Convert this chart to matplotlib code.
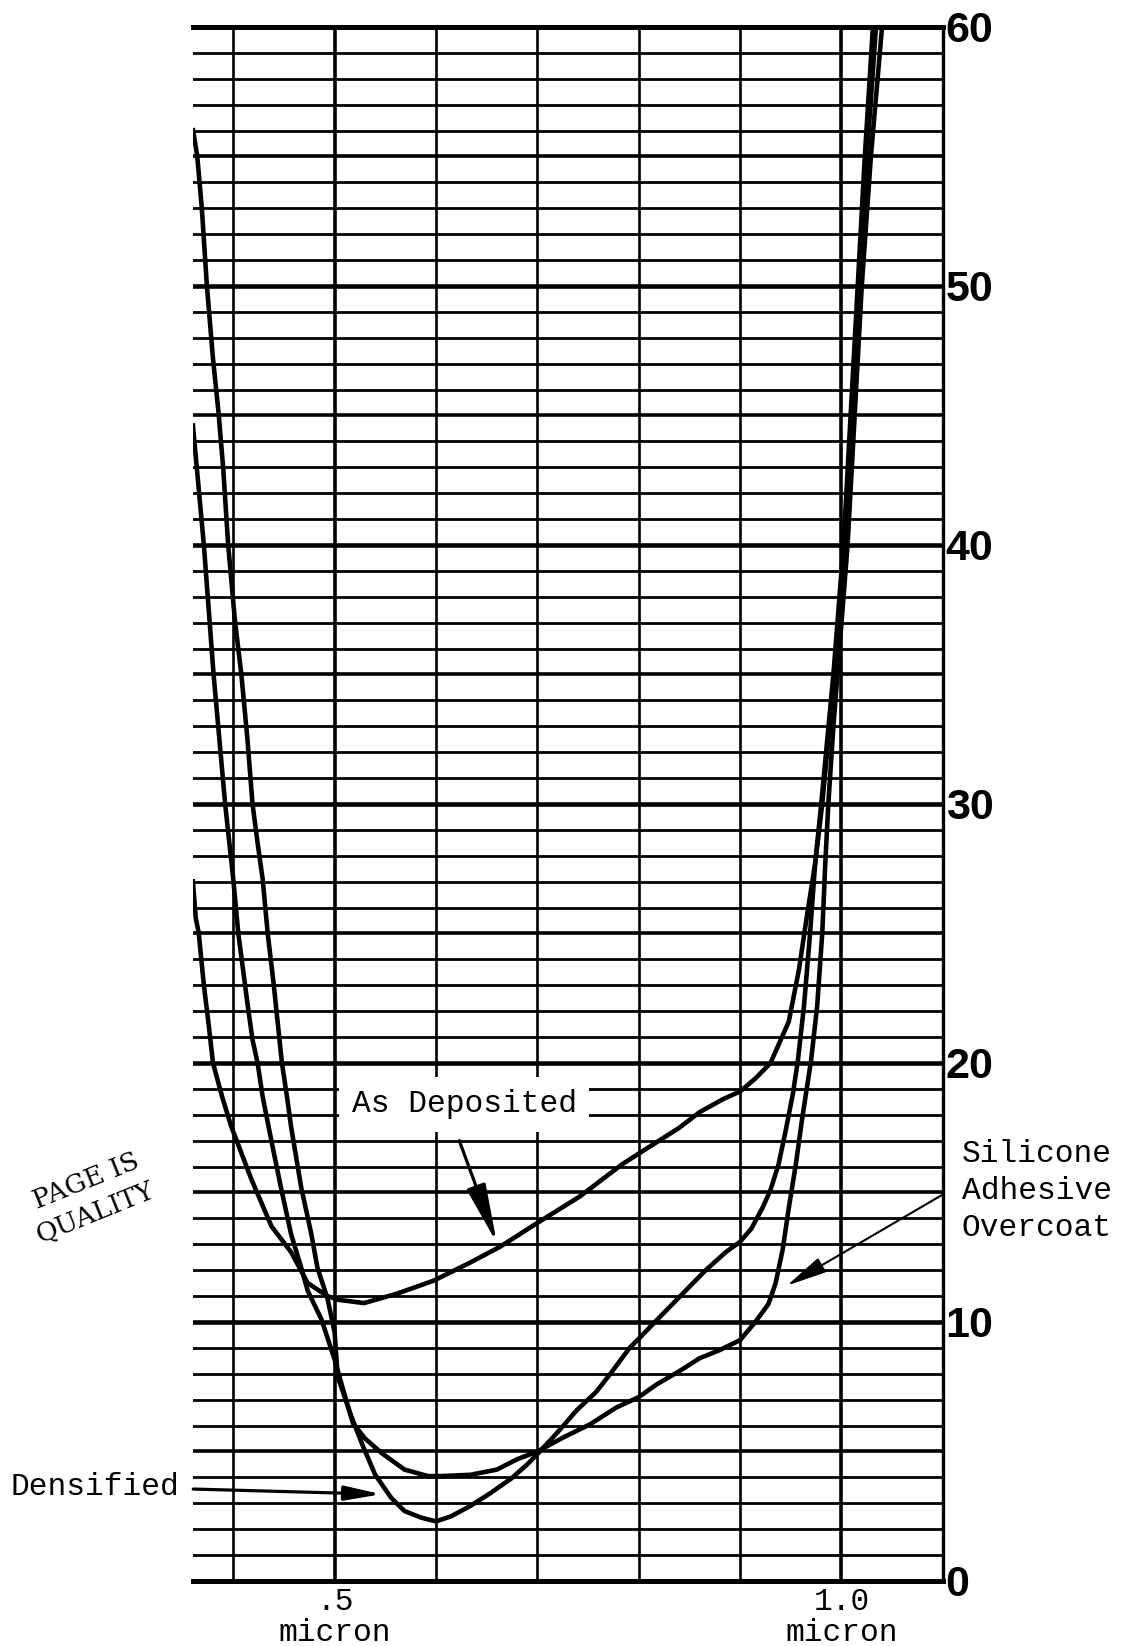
import matplotlib
matplotlib.use("Agg")
import matplotlib.pyplot as plt
from matplotlib.patches import ArrowStyle
import numpy as np

# ---------------- data (wavelength in micron, value in %) ----------------
as_dep_x = [0.360, 0.363, 0.366, 0.371, 0.376, 0.380, 0.389, 0.398, 0.418, 0.4376,
            0.457, 0.4735, 0.493, 0.503, 0.529, 0.562, 0.598, 0.634, 0.663, 0.699,
            0.742, 0.784, 0.840, 0.860, 0.883, 0.900, 0.915, 0.930, 0.948, 0.958,
            0.966, 0.974, 0.981, 0.987, 0.993, 0.998, 1.003, 1.010, 1.017, 1.025, 1.034]
as_dep_y = [27.1, 25.6, 25.0, 23.0, 21.4, 20.0, 18.7, 17.55, 15.5, 13.7,
            12.7, 11.5, 11.0, 10.86, 10.73, 11.1, 11.6, 12.3, 12.9, 13.8,
            14.85, 16.1, 17.5, 18.1, 18.6, 18.9, 19.4, 20.0, 21.6, 23.6,
            25.7, 27.7, 30.0, 32.5, 35.0, 37.5, 40.0, 45.0, 50.0, 55.0, 60.0]

dens_x = [0.360, 0.3645, 0.369, 0.374, 0.380, 0.3855, 0.390, 0.395, 0.4016, 0.408,
          0.414, 0.419, 0.424, 0.429, 0.434, 0.440, 0.448, 0.453, 0.457, 0.467,
          0.477, 0.483, 0.493, 0.500, 0.503, 0.516, 0.528, 0.540, 0.556, 0.569,
          0.585, 0.600, 0.615, 0.634, 0.654, 0.674, 0.690, 0.700, 0.719, 0.739,
          0.758, 0.772, 0.791, 0.800, 0.811, 0.840, 0.866, 0.886, 0.900, 0.911,
          0.922, 0.930, 0.938, 0.945, 0.952, 0.957, 0.963, 0.969, 0.974, 0.980,
          0.992, 1.002, 1.009, 1.016, 1.023, 1.031]
dens_y = [56.1, 55.0, 53.0, 50.0, 47.2, 45.1, 43.0, 40.0, 37.1, 35.0,
          32.5, 30.0, 28.5, 27.1, 25.0, 23.0, 20.0, 18.7, 17.55, 15.2,
          13.4, 12.1, 10.9, 9.6, 7.9, 6.4, 5.2, 4.1, 3.2, 2.7,
          2.45, 2.3, 2.5, 2.9, 3.4, 3.95, 4.5, 4.9, 5.7, 6.6,
          7.3, 8.0, 9.0, 9.35, 9.8, 10.96, 12.0, 12.7, 13.1, 13.6,
          14.4, 15.1, 16.1, 17.4, 18.8, 20.1, 22.2, 25.0, 27.7, 30.0,
          35.0, 40.0, 45.0, 50.0, 55.0, 60.0]

over_x = [0.360, 0.364, 0.371, 0.3806, 0.392, 0.400, 0.405, 0.414, 0.419, 0.424,
          0.429, 0.4376, 0.447, 0.457, 0.467, 0.4735, 0.487, 0.500, 0.509, 0.518,
          0.530, 0.546, 0.569, 0.592, 0.605, 0.634, 0.660, 0.680, 0.700, 0.726,
          0.752, 0.778, 0.800, 0.818, 0.840, 0.860, 0.879, 0.900, 0.915, 0.928,
          0.935, 0.942, 0.948, 0.955, 0.961, 0.970, 0.976, 0.981, 0.984, 0.987,
          0.992, 0.996, 1.006, 1.013, 1.020, 1.029, 1.040]
over_y = [44.7, 43.0, 40.0, 35.0, 30.0, 27.1, 25.0, 22.3, 20.9, 20.0,
          18.7, 17.0, 15.2, 13.4, 12.1, 11.2, 10.1, 8.55, 7.3, 6.1,
          5.5, 4.95, 4.3, 4.05, 4.05, 4.1, 4.3, 4.7, 5.0, 5.55,
          6.05, 6.7, 7.1, 7.6, 8.1, 8.6, 8.9, 9.3, 10.0, 10.7,
          11.5, 12.8, 14.4, 16.1, 17.8, 20.1, 22.2, 25.0, 27.7, 30.0,
          33.0, 35.0, 40.0, 45.0, 50.0, 55.0, 60.0]

y_ticks = [0, 10, 20, 30, 40, 50, 60]
y_tick_labels = ["0", "10", "20", "30", "40", "50", "60"]
x_ticks = [0.5, 1.0]
x_tick_labels = [".5\nmicron", "1.0\nmicron"]
x_minor_lines = [0.4, 0.6, 0.7, 0.8, 0.9]

# ---------------- figure ----------------
fig = plt.figure(figsize=(11.23, 16.46), dpi=100)
ax = fig.add_axes([0.1716, 0.0395, 0.668, 0.9441])
ax.set_xlim(0.36, 1.10)
ax.set_ylim(0, 60)

# grid (horizontal every 1, medium every 5, heavy every 10)
for v in range(1, 60):
    if v % 10 == 0:
        lw = 3.3
    elif v % 5 == 0:
        lw = 2.6
    else:
        lw = 2.0
    ax.axhline(v, color="black", lw=lw, zorder=1)
for xv in x_minor_lines:
    ax.axvline(xv, color="black", lw=1.9, zorder=1)
for xv in x_ticks:
    ax.axvline(xv, color="black", lw=2.6, zorder=1)

# curves
for xs, ys in [(as_dep_x, as_dep_y), (dens_x, dens_y), (over_x, over_y)]:
    ax.plot(xs, ys, color="black", lw=3.3, solid_capstyle="butt",
            solid_joinstyle="round", zorder=3)

# spines
ax.spines["left"].set_visible(False)
ax.spines["top"].set_linewidth(3.6)
ax.spines["bottom"].set_linewidth(3.6)
ax.spines["right"].set_linewidth(2.4)
for s in ax.spines.values():
    s.set_color("black")
    s.set_zorder(4)

# ticks
ax.yaxis.tick_right()
ax.set_yticks(y_ticks)
ax.set_yticklabels(y_tick_labels, fontsize=31, fontweight="bold",
                   family="Liberation Sans")
ax.tick_params(axis="y", length=0, pad=2)
ax.set_xticks(x_ticks)
ax.set_xticklabels(x_tick_labels, fontsize=22.5, family="Liberation Mono",
                   linespacing=1.05)
ax.tick_params(axis="x", length=0, pad=4)

mono = dict(family="Liberation Mono", fontsize=22.5, color="black")

# As Deposited label + arrow
ax.text(0.628, 18.4, "As Deposited", ha="center", va="center", zorder=5,
        bbox=dict(facecolor="white", edgecolor="none", pad=9), **mono)
ax.annotate("", xy=(0.660, 13.05), xytext=(0.623, 17.0), zorder=5,
            arrowprops=dict(arrowstyle=ArrowStyle("-|>", head_length=1.8, head_width=0.3),
                            mutation_scale=20, lw=2.3, color="black",
                            shrinkA=0, shrinkB=0))

# Densified label + arrow
fig.text(0.009, 0.0966, "Densified", ha="left", va="center", **mono)
ax.annotate("", xy=(0.546, 3.35), xytext=(0.3605, 3.55), annotation_clip=False,
            zorder=5,
            arrowprops=dict(arrowstyle=ArrowStyle("-|>", head_length=1.1, head_width=0.22),
                            mutation_scale=20, lw=2.3, color="black",
                            shrinkA=0, shrinkB=0))

# Silicone Adhesive Overcoat label + arrow
fig.text(0.8566, 0.2764, "Silicone\nAdhesive\nOvercoat", ha="left", va="center",
         linespacing=1.3, **mono)
ax.annotate("", xy=(0.946, 11.4), xytext=(1.099, 14.9), annotation_clip=False,
            zorder=5,
            arrowprops=dict(arrowstyle=ArrowStyle("-|>", head_length=1.25, head_width=0.25),
                            mutation_scale=20, lw=1.5, color="black",
                            shrinkA=0, shrinkB=0))

# stamp text
fig.text(86 / 1123, 1 - 1181 / 1646, "PAGE IS", rotation=22, ha="center", va="center",
         family="DejaVu Serif", fontsize=19, rotation_mode="anchor")
fig.text(95 / 1123, 1 - 1213 / 1646, "QUALITY", rotation=22, ha="center", va="center",
         family="DejaVu Serif", fontsize=19, rotation_mode="anchor")

fig.savefig("out.png", dpi=100, facecolor="white")
